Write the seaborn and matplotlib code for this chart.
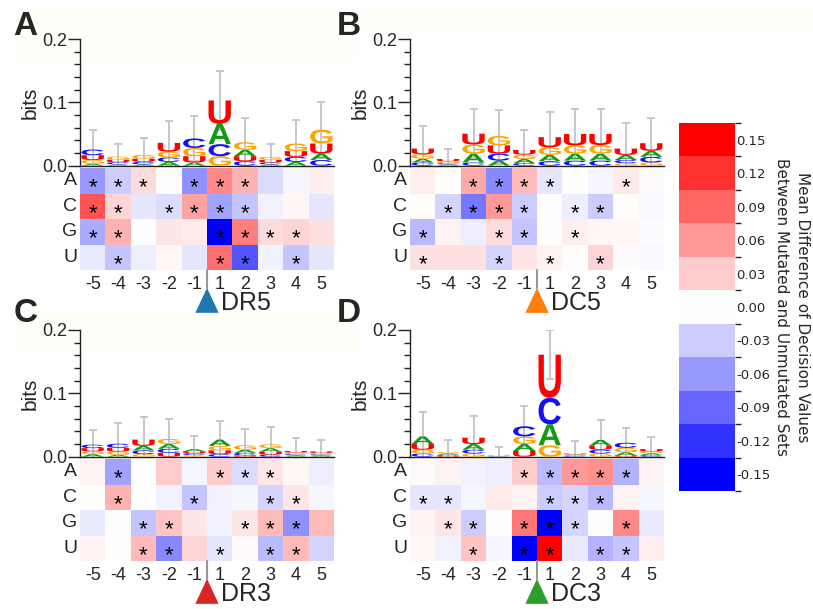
import numpy as np
import pandas as pd
import matplotlib
matplotlib.use("Agg")
import matplotlib as mpl
import matplotlib.pyplot as plt
import seaborn as sns
from matplotlib.textpath import TextPath
from matplotlib.patches import PathPatch, Polygon, Rectangle
from matplotlib.font_manager import FontProperties
from matplotlib.transforms import Affine2D
from matplotlib.colors import ListedColormap, BoundaryNorm

sns.set_theme(style="ticks")
plt.rcParams['font.family'] = ['Liberation Sans', 'DejaVu Sans']

# ---------------- data ----------------
positions = ["-5", "-4", "-3", "-2", "-1", "1", "2", "3", "4", "5"]
nucleotides = ["A", "C", "G", "U"]
panel_letters = ["A", "B", "C", "D"]
site_names = ["DR5", "DC5", "DR3", "DC3"]
site_colors = ["#1f77b4", "#ff7f0e", "#d62728", "#2ca02c"]
letter_colors = {"A": "#139a13", "C": "#1010ff", "G": "#ffa500", "U": "#ff0000"}

# mean difference heatmaps (rows A, C, G, U; columns -5..5)
dr5_diff = [
    [-0.060, -0.030, 0.020, 0.002, -0.065, 0.070, 0.045, -0.020, -0.005, 0.010],
    [0.100, 0.025, -0.015, -0.020, 0.055, -0.055, -0.035, -0.008, 0.005, -0.015],
    [-0.050, 0.045, 0.000, 0.015, 0.012, -0.150, 0.075, 0.020, 0.025, 0.018],
    [-0.012, -0.035, -0.010, 0.005, -0.015, 0.085, -0.100, -0.008, -0.035, -0.015],
]
dc5_diff = [
    [0.010, 0.002, 0.050, -0.070, 0.040, -0.015, 0.000, -0.005, 0.012, 0.003],
    [0.002, -0.025, -0.080, 0.060, -0.030, 0.000, -0.010, -0.030, 0.002, -0.004],
    [-0.040, 0.008, -0.010, 0.020, -0.035, 0.000, 0.010, 0.005, 0.005, -0.003],
    [0.018, 0.018, 0.018, -0.025, 0.015, 0.008, 0.002, 0.025, -0.002, -0.004],
]
dr3_diff = [
    [0.008, -0.055, 0.000, 0.030, -0.005, 0.030, -0.020, 0.015, 0.005, -0.010],
    [0.002, 0.045, 0.000, -0.008, -0.035, -0.008, -0.005, -0.025, 0.015, -0.005],
    [-0.012, 0.000, -0.035, 0.035, 0.015, -0.008, 0.015, 0.040, -0.065, 0.040],
    [0.008, 0.000, 0.040, -0.070, 0.025, -0.015, 0.003, -0.040, 0.040, -0.025],
]
dc3_diff = [
    [0.003, 0.008, -0.008, -0.010, 0.030, -0.040, 0.060, 0.065, -0.045, 0.008],
    [-0.015, -0.015, -0.005, 0.012, 0.008, -0.030, -0.025, -0.040, 0.008, -0.005],
    [0.008, 0.015, -0.030, 0.000, 0.080, -0.150, -0.025, 0.000, 0.070, -0.012],
    [0.005, -0.008, 0.035, -0.005, -0.150, 0.150, -0.012, -0.045, -0.035, 0.010],
]

# significance marks (1 = asterisk)
dr5_sig = [
    [1, 1, 1, 0, 1, 1, 1, 0, 0, 0],
    [1, 1, 0, 1, 1, 1, 1, 0, 0, 0],
    [1, 1, 0, 0, 0, 1, 1, 1, 1, 0],
    [0, 1, 0, 0, 0, 1, 1, 0, 1, 0],
]
dc5_sig = [
    [0, 0, 1, 1, 1, 1, 0, 0, 1, 0],
    [0, 1, 1, 1, 1, 0, 1, 1, 0, 0],
    [1, 0, 0, 1, 1, 0, 1, 0, 0, 0],
    [1, 0, 0, 1, 0, 1, 0, 1, 0, 0],
]
dr3_sig = [
    [0, 1, 0, 0, 0, 1, 1, 1, 0, 0],
    [0, 1, 0, 0, 1, 0, 0, 1, 1, 0],
    [0, 0, 1, 1, 0, 0, 1, 1, 1, 0],
    [0, 0, 1, 1, 0, 1, 0, 1, 1, 0],
]
dc3_sig = [
    [0, 0, 0, 0, 1, 1, 1, 1, 1, 0],
    [1, 1, 0, 0, 0, 1, 1, 1, 0, 0],
    [0, 1, 1, 0, 1, 1, 1, 0, 1, 0],
    [0, 0, 1, 0, 1, 1, 0, 1, 1, 0],
]

# sequence logo heights in bits (rows A, C, G, U; columns -5..5)
dr5_bits = [
    [0.003, 0.002, 0.002, 0.006, 0.005, 0.032, 0.010, 0.002, 0.006, 0.010],
    [0.009, 0.0035, 0.004, 0.007, 0.015, 0.019, 0.007, 0.003, 0.008, 0.009],
    [0.006, 0.005, 0.006, 0.009, 0.013, 0.015, 0.012, 0.005, 0.012, 0.022],
    [0.0075, 0.004, 0.005, 0.014, 0.010, 0.037, 0.008, 0.004, 0.009, 0.016],
]
dc5_bits = [
    [0.006, 0.002, 0.014, 0.008, 0.0065, 0.010, 0.011, 0.011, 0.008, 0.0095],
    [0.005, 0.002, 0.005, 0.011, 0.004, 0.007, 0.008, 0.008, 0.005, 0.009],
    [0.007, 0.003, 0.0145, 0.015, 0.007, 0.012, 0.013, 0.0135, 0.004, 0.005],
    [0.009, 0.0035, 0.017, 0.013, 0.0075, 0.016, 0.018, 0.0175, 0.010, 0.012],
]
dr3_bits = [
    [0.004, 0.003, 0.007, 0.0075, 0.0035, 0.010, 0.005, 0.0055, 0.002, 0.0018],
    [0.0055, 0.0065, 0.006, 0.0065, 0.003, 0.004, 0.004, 0.003, 0.002, 0.002],
    [0.0045, 0.005, 0.004, 0.008, 0.0025, 0.007, 0.007, 0.006, 0.0025, 0.002],
    [0.005, 0.006, 0.010, 0.006, 0.003, 0.006, 0.002, 0.005, 0.0025, 0.0025],
]
dc3_bits = [
    [0.012, 0.002, 0.009, 0.0005, 0.011, 0.033, 0.0015, 0.009, 0.005, 0.003],
    [0.005, 0.0018, 0.006, 0.0005, 0.016, 0.042, 0.001, 0.006, 0.008, 0.0025],
    [0.006, 0.0022, 0.005, 0.0005, 0.012, 0.018, 0.001, 0.005, 0.007, 0.003],
    [0.009, 0.0015, 0.010, 0.0005, 0.009, 0.068, 0.0015, 0.0065, 0.002, 0.0035],
]

# upper end of the error bars (bits)
dr5_err_top = [0.056, 0.035, 0.043, 0.071, 0.079, 0.150, 0.075, 0.034, 0.072, 0.100]
dc5_err_top = [0.063, 0.027, 0.089, 0.088, 0.056, 0.084, 0.089, 0.089, 0.067, 0.075]
dr3_err_top = [0.042, 0.053, 0.062, 0.059, 0.032, 0.056, 0.044, 0.047, 0.029, 0.027]
dc3_err_top = [0.071, 0.026, 0.064, 0.016, 0.080, 0.200, 0.025, 0.058, 0.046, 0.031]

cbar_ticks = [-0.15, -0.12, -0.09, -0.06, -0.03, 0.00, 0.03, 0.06, 0.09, 0.12, 0.15]
cbar_label = "Mean Difference of Decision Values\nBetween Mutated and Unmutated Sets"

diffs = [dr5_diff, dc5_diff, dr3_diff, dc3_diff]
sigs = [dr5_sig, dc5_sig, dr3_sig, dc3_sig]
bits = [dr5_bits, dc5_bits, dr3_bits, dc3_bits]
err_tops = [dr5_err_top, dc5_err_top, dr3_err_top, dc3_err_top]

# ---------------- layout helpers ----------------
W, H = 813, 609
fig = plt.figure(figsize=(W / 100, H / 100), dpi=100)
fig.patch.set_facecolor("white")


def px_axes(x0, y0, x1, y1):
    return fig.add_axes([x0 / W, 1 - y1 / H, (x1 - x0) / W, (y1 - y0) / H])


def px_rect(x0, y0, x1, y1, color):
    fig.patches.append(Rectangle((x0 / W, 1 - y1 / H), (x1 - x0) / W, (y1 - y0) / H,
                                 transform=fig.transFigure, facecolor=color,
                                 edgecolor="none", zorder=-10))


# very faint cream backdrop visible in the reference
cream = "#fffef8"
px_rect(12, 10, 813, 32, cream)
px_rect(12, 32, 345, 62, cream)
px_rect(345, 32, 358, 62, cream)
px_rect(13, 310, 340, 355, cream)
px_rect(330, 310, 358, 355, cream)

logo_font = FontProperties(family="Liberation Sans", weight="bold")
letter_paths = {L: TextPath((0, 0), L, size=1, prop=logo_font) for L in nucleotides}


def draw_letter(ax, L, xc, y0, h, width=0.88):
    tp = letter_paths[L]
    bb = tp.get_extents()
    t = (Affine2D().translate(-bb.x0, -bb.y0)
         .scale(width / bb.width, h / bb.height)
         .translate(xc - width / 2, y0))
    ax.add_patch(PathPatch(t.transform_path(tp), facecolor=letter_colors[L],
                           edgecolor="none", zorder=3))


cmap = plt.get_cmap("bwr")
vlim = 0.15

# panel origin (x0, logo_top, heat_top) in pixels
panel_px = [(80, 39, 168), (410, 39, 168), (80, 330, 459), (410, 330, 459)]
letter_px = [(13, 35), (337, 35), (14, 322), (337, 322)]
col_w = 254
logo_h = 126.7
heat_h = 102

for k in range(4):
    x0, ly, hy = panel_px[k]

    # ---- sequence logo ----
    lax = px_axes(x0, ly, x0 + col_w, ly + logo_h)
    lax.set_xlim(0, 10)
    lax.set_ylim(0, 0.2)
    b = np.array(bits[k])
    totals = b.sum(axis=0)
    for j in range(10):
        order = np.argsort(b[:, j], kind="stable")
        y = 0.0
        for i in order:
            h = b[i, j]
            draw_letter(lax, nucleotides[i], j + 0.5, y, h)
            y += h
    err = np.array(err_tops[k]) - totals
    lax.errorbar(np.arange(10) + 0.5, totals, yerr=err, fmt="none",
                 ecolor="#c8c8c8", elinewidth=1.4, capsize=3, capthick=1.4, zorder=2)
    for s in ["top", "right"]:
        lax.spines[s].set_visible(False)
    for s in ["left", "bottom"]:
        lax.spines[s].set_color("#222222")
        lax.spines[s].set_linewidth(1.0)
    lax.set_facecolor("none")
    lax.set_xticks([])
    lax.set_yticks([0, 0.1, 0.2])
    lax.set_yticklabels(["0.0", "0.1", "0.2"])
    lax.set_yticks(np.arange(0, 0.2001, 0.02), minor=True)
    lax.tick_params(axis="y", which="major", length=8.5, width=1, color="#222222",
                    labelsize=13, pad=0.5, left=True)
    lax.tick_params(axis="y", which="minor", length=4.3, width=1, color="#222222", left=True)
    lax.set_ylabel("bits", fontsize=15, labelpad=2)

    # ---- heatmap ----
    hax = px_axes(x0, hy, x0 + col_w, hy + heat_h)
    df = pd.DataFrame(diffs[k], index=nucleotides, columns=positions)
    annot = np.where(np.array(sigs[k]) == 1, "*", "")
    sns.heatmap(df, ax=hax, cmap=cmap, vmin=-vlim, vmax=vlim, cbar=False,
                annot=annot, fmt="", annot_kws={"size": 16, "color": "black"})
    # asterisks sit high in the font; place them so the glyph is centred in the cell
    for t in hax.texts:
        tx, ty = t.get_position()
        t.set_position((tx, ty + 0.5))
        t.set_va("baseline")
    hax.tick_params(axis="both", length=0)
    hax.tick_params(axis="x", labelsize=13, pad=4)
    hax.tick_params(axis="y", labelsize=14, pad=2)
    hax.set_yticklabels(nucleotides, rotation=0)
    hax.set_xticklabels(positions, rotation=0)
    hax.set_xlabel("")
    hax.set_ylabel("")

    # centre marker line, triangle and site name
    hax.plot([5, 5], [4, 4.7], color="#999999", lw=1.5, clip_on=False)
    tri = Polygon([[5, 4.7], [5 - 0.46, 5.68], [5 + 0.46, 5.68]], closed=True,
                  facecolor=site_colors[k], edgecolor="none", clip_on=False)
    hax.add_patch(tri)
    hax.text(5.57, 5.57, site_names[k], fontsize=18, ha="left", va="baseline",
             clip_on=False)

    # panel letter
    lx, lyb = letter_px[k]
    fig.text(lx / W, 1 - lyb / H, panel_letters[k], fontsize=24, fontweight="bold",
             ha="left", va="baseline")

# ---------------- discrete colour bar ----------------
step = 0.03
bounds = [t - step / 2 for t in cbar_ticks] + [cbar_ticks[-1] + step / 2]
colors = [cmap(0.5 + t / (2 * vlim)) for t in cbar_ticks]
cax = px_axes(679, 123, 735, 491)
cb = mpl.colorbar.ColorbarBase(cax, cmap=ListedColormap(colors),
                               norm=BoundaryNorm(bounds, len(colors)),
                               ticks=cbar_ticks, orientation="vertical")
cb.outline.set_visible(False)
cb.set_ticklabels(["%.2f" % t for t in cbar_ticks])
cax.tick_params(length=0, pad=1, labelsize=9.5)
for t in cax.get_yticklabels():
    t.set_fontfamily("DejaVu Sans")
fig.text(792 / W, 1 - 307 / H, cbar_label, rotation=270, ha="center", va="center",
         fontsize=11, family="DejaVu Sans", linespacing=1.5)

fig.savefig("out.png", dpi=100)
